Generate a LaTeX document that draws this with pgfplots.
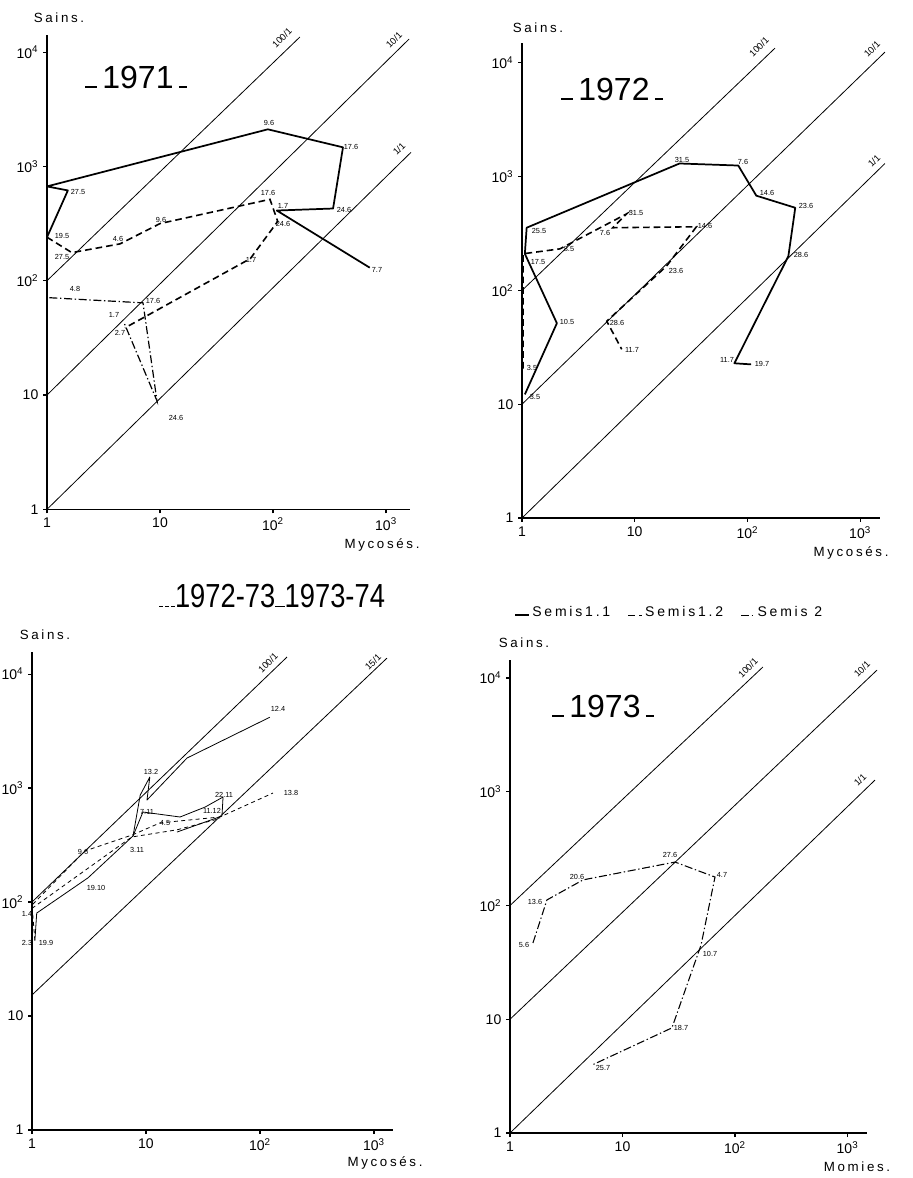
\documentclass[border=0pt]{standalone}
\usepackage{fontspec}
\setmainfont{Liberation Sans}
\newfontfamily\spaced[LetterSpace=20]{Liberation Sans}
\newfontfamily\condensed[FakeStretch=0.82]{Liberation Sans}
\usepackage{pgfplots}
\pgfplotsset{compat=1.18}

\newcommand{\ticksize}{\fontsize{10.5}{12}\selectfont}
\newcommand{\ptsize}{\fontsize{5.5}{6}\selectfont}

\tikzset{
  s11/.style={black, line width=1.3pt, line join=round},
  s12/.style={black, line width=1.2pt, dash pattern=on 5pt off 3pt},
  s2/.style={black, line width=0.9pt, dash pattern=on 6pt off 2pt on 1pt off 2pt},
  s2b/.style={black, line width=0.8pt, dash pattern=on 6pt off 2pt on 1pt off 2pt},
  t11/.style={black, line width=0.6pt, line join=round},
  t12/.style={black, line width=0.6pt, dash pattern=on 3pt off 2.5pt},
  diag/.style={black, line width=0.6pt},
  pl/.style={font=\ptsize, inner sep=0pt},
  ll/.style={font=\fontsize{7}{8}\selectfont, inner sep=0pt, rotate=45},
  al/.style={font=\spaced\fontsize{10}{11}\selectfont, inner sep=0pt},
}

\pgfplotsset{every axis/.append style={
  scale only axis, clip=false,
  axis lines=left, axis line style={-, black},
  x axis line style={line width=0.9pt}, y axis line style={line width=1.3pt},
  xmin=1, ymin=1,
  xtick={1,10,100,1000},
  xticklabels={1,10,10\textsuperscript{2},10\textsuperscript{3}},
  ytick={1,10,100,1000,10000},
  yticklabels={1,10,10\textsuperscript{2},10\textsuperscript{3},10\textsuperscript{4}},
  xminorticks=false, yminorticks=false,
  tick align=outside, major tick length=3pt,
  tick style={black, line width=0.8pt},
  tick label style={font=\ticksize},
  anchor=south west,
}}

\begin{document}
\begin{tikzpicture}
\path[use as bounding box] (0,0) rectangle (684.75pt,-883.5pt);

% ---------------- Panel 1 : 1971
\begin{loglogaxis}[at={(35.25pt,-382pt)}, width=272.25pt, height=355.75pt,
  xmax=1630, ymax=14100]
\addplot[diag] coordinates {(1,100) (173,13550)};
\addplot[diag] coordinates {(1,10) (1600,13000)};
\addplot[diag] coordinates {(1,1) (1664,1327)};
\addplot[s11] coordinates {(1,240) (1.53,616) (1,668) (90,2110) (416,1468) (340,428) (108,411) (718,130)};
\addplot[s12] coordinates {(1,240) (1.66,176) (4.43,210) (10,316) (94,515) (110,330) (63,156) (4.9,38.7)};
\addplot[s2] coordinates {(1.05,71) (7.07,64) (9.4,8.9) (4.8,43)};
\end{loglogaxis}

% ---------------- Panel 2 : 1972
\begin{loglogaxis}[at={(391.5pt,-388.5pt)}, width=268.5pt, height=356.25pt,
  xmax=1503, ymax=14960]
\addplot[diag] coordinates {(1,100) (176,13500)};
\addplot[diag] coordinates {(1,10) (1663,12450)};
\addplot[diag] coordinates {(1,1) (1663,1306)};
\addplot[s11] coordinates {(1.06,12.2) (2.04,51.5) (1.06,210) (1.1,356) (25,1306) (83,1253) (120,681) (266,533) (231,200) (76.7,22.9) (108,22.4)};
\addplot[s12] coordinates {(1.02,20.6) (1.02,210) (2.17,232) (8.5,472) (6.4,356) (35.3,363) (19.2,164) (5.65,53.7) (7.67,30.4)};
\end{loglogaxis}

% ---------------- Panel 3 : 1972-73 / 1973-74
\begin{loglogaxis}[at={(24pt,-847.5pt)}, width=270.75pt, height=358.5pt,
  xmax=1468, ymax=15600]
\addplot[diag] coordinates {(1,100) (172.6,14100)};
\addplot[diag] coordinates {(1,15.3) (1300,13800)};
\addplot[t11] coordinates {(1.06,46) (1.1,80) (3.1,163) (7.7,380) (9.4,616) (19.9,557) (33,681) (47.4,834) (46.4,568) (18.7,411)};
\addplot[t11] coordinates {(7.7,380) (8.9,868) (10.8,1249) (10.2,785) (22.9,1833) (122,4180)};
\addplot[t12] coordinates {(1.06,46) (1,94) (2.9,280) (7.7,390) (13.3,495) (44.6,557) (130,904)};
\addplot[t12] coordinates {(1,88) (7.5,372) (18.7,430) (44.6,540)};
\end{loglogaxis}

% ---------------- Panel 4 : 1973
\begin{loglogaxis}[at={(382.5pt,-849.75pt)}, width=267.75pt, height=354.75pt,
  xmax=1490, ymax=14400,
  legend columns=3, legend cell align=left,
  legend image code/.code={\draw[#1] (0pt,-2.5pt) -- (10pt,-2.5pt);},
  legend style={at={(0.012,1.1015)}, anchor=west, draw=none, fill=none,
    font=\spaced\fontsize{10.5}{12}\selectfont, inner sep=0pt,
    /tikz/every even column/.append style={column sep=11pt}}]
\addlegendimage{s11}
\addlegendentry{Semis1.1}
\addlegendimage{s12}
\addlegendentry{Semis1.2}
\addlegendimage{s2b}
\addlegendentry{Semis 2}
\addplot[diag, forget plot] coordinates {(1,100) (177,12500)};
\addplot[diag, forget plot] coordinates {(1,10) (1830,11750)};
\addplot[diag, forget plot] coordinates {(1,1) (1755,1268)};
\addplot[s2b, forget plot] coordinates {(1.6,46.9) (2.13,112) (4.46,168) (29.3,241) (66.4,178) (49.9,45) (27.5,8.4) (5.36,3.96)};
\end{loglogaxis}

\begin{scope}[x=0.75pt, y=-0.75pt]
% axis names
\node[al] at (59,18) {Sains.};
\node[al] at (382,545) {Mycosés.};
\node[al] at (851,553) {Mycosés.};
\node[al] at (45,635) {Sains.};
\node[al] at (538,28) {Sains.};
\node[al] at (385,1163) {Mycosés.};
\node[al] at (524,643) {Sains.};
\node[al] at (857,1167) {Momies.};
% titles
\node[anchor=base, inner sep=0pt, font=\fontsize{24}{26}\selectfont] at (136,88) {\rule{9pt}{1.5pt}\,1971\,\rule{6pt}{1.5pt}};
\node[anchor=base, inner sep=0pt, font=\fontsize{24}{26}\selectfont] at (612,100) {\rule{9pt}{1.5pt}\,1972\,\rule{6pt}{1.5pt}};
\node[anchor=base, inner sep=0pt, font=\fontsize{24}{26}\selectfont] at (603,717) {\rule{9pt}{1.5pt}\,1973\,\rule{6pt}{1.5pt}};
\node[anchor=base, inner sep=0pt, font=\condensed\fontsize{25}{27}\selectfont] at (272,607) {\rule{3pt}{1pt}\hspace{1.5pt}\rule{3pt}{1pt}\hspace{1.5pt}\rule{3pt}{1pt}1972-73\rule{7pt}{1pt}1973-74};
% diagonal labels
\node[ll] at (282,38) {100/1};
\node[ll] at (394,40) {10/1};
\node[ll] at (399,149) {1/1};
\node[ll] at (759,47) {100/1};
\node[ll] at (872,49) {10/1};
\node[ll] at (874,161) {1/1};
\node[ll] at (268,663) {100/1};
\node[ll] at (373,662) {15/1};
\node[ll] at (748,668) {100/1};
\node[ll] at (862,669) {10/1};
\node[ll] at (860,780) {1/1};
% point labels panel 1
\node[pl] at (62,236) {19.5};
\node[pl] at (78,192) {27.5};
\node[pl] at (269,123) {9.6};
\node[pl] at (351,147) {17.6};
\node[pl] at (344,210) {24.6};
\node[pl] at (283,206) {1.7};
\node[pl] at (377,270) {7.7};
\node[pl] at (268,193) {17.6};
\node[pl] at (283,224) {24.6};
\node[pl] at (251,260) {1.7};
\node[pl] at (118,239) {4.6};
\node[pl] at (161,220) {9.6};
\node[pl] at (62,257) {27.5};
\node[pl] at (75,289) {4.8};
\node[pl] at (153,301) {17.6};
\node[pl] at (114,315) {1.7};
\node[pl] at (120,333) {2.7};
\node[pl] at (176,418) {24.6};
% point labels panel 2
\node[pl] at (539,231) {25.5};
\node[pl] at (538,262) {17.5};
\node[pl] at (682,160) {31.5};
\node[pl] at (743,162) {7.6};
\node[pl] at (767,193) {14.6};
\node[pl] at (806,206) {23.6};
\node[pl] at (801,255) {28.6};
\node[pl] at (727,360) {11.7};
\node[pl] at (762,364) {19.7};
\node[pl] at (567,322) {10.5};
\node[pl] at (535,397) {3.5};
\node[pl] at (532,368) {3.5};
\node[pl] at (569,249) {8.5};
\node[pl] at (636,213) {31.5};
\node[pl] at (605,233) {7.6};
\node[pl] at (705,226) {14.6};
\node[pl] at (676,271) {23.6};
\node[pl] at (617,323) {28.6};
\node[pl] at (632,350) {11.7};
% point labels panel 3
\node[pl] at (151,772) {13.2};
\node[pl] at (278,709) {12.4};
\node[pl] at (291,793) {13.8};
\node[pl] at (224,795) {22.11};
\node[pl] at (212,811) {11.12};
\node[pl] at (147,812) {7.11};
\node[pl] at (165,823) {4.5};
\node[pl] at (137,850) {3.11};
\node[pl] at (83,852) {9.6};
\node[pl] at (96,888) {19.10};
\node[pl] at (27,914) {1.4};
\node[pl] at (27,943) {2.3};
\node[pl] at (46,943) {19.9};
% point labels panel 4
\node[pl] at (524,945) {5.6};
\node[pl] at (535,902) {13.6};
\node[pl] at (577,877) {20.6};
\node[pl] at (670,855) {27.6};
\node[pl] at (722,875) {4.7};
\node[pl] at (710,954) {10.7};
\node[pl] at (681,1028) {18.7};
\node[pl] at (603,1068) {25.7};
\end{scope}
\end{tikzpicture}
\end{document}
